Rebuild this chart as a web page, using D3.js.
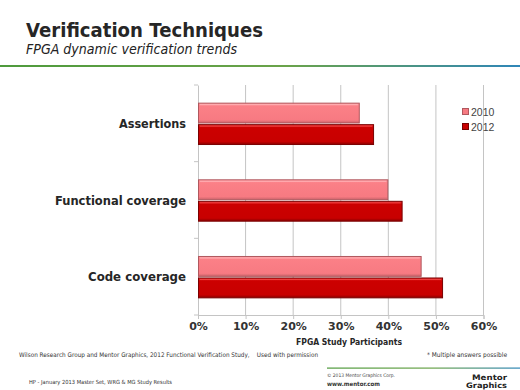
<!DOCTYPE html>
<html><head><meta charset="utf-8">
<script src="https://cdn.jsdelivr.net/npm/d3@7"></script>
<style>
html,body{margin:0;padding:0;background:#fff;}
svg{display:block;font-family:"DejaVu Sans",Verdana,sans-serif;}
</style></head>
<body>
<script>
const categories = ["Assertions", "Functional coverage", "Code coverage"];
const seriesNames = ["2010", "2012"];
const values2010 = [34, 40, 47];
const values2012 = [37, 43, 51.5];
const xTicks = [0, 10, 20, 30, 40, 50, 60];

const W = 520, H = 390;
const svg = d3.select("body").append("svg").attr("width", W).attr("height", H);
const defs = svg.append("defs");

const lg = defs.append("linearGradient").attr("id","rule").attr("x1","0").attr("x2","1");
lg.append("stop").attr("offset","0").attr("stop-color","#4e9a3c");
lg.append("stop").attr("offset","0.55").attr("stop-color","#6aa34a");
lg.append("stop").attr("offset","1").attr("stop-color","#2f86b8");

const g10 = defs.append("linearGradient").attr("id","g10").attr("x1","0").attr("x2","0").attr("y1","0").attr("y2","1");
g10.append("stop").attr("offset","0").attr("stop-color","#ff9aa0");
g10.append("stop").attr("offset","0.15").attr("stop-color","#fb8087");
g10.append("stop").attr("offset","0.85").attr("stop-color","#f77a82");
g10.append("stop").attr("offset","1").attr("stop-color","#c9636a");
const g12 = defs.append("linearGradient").attr("id","g12").attr("x1","0").attr("x2","0").attr("y1","0").attr("y2","1");
g12.append("stop").attr("offset","0").attr("stop-color","#e83030");
g12.append("stop").attr("offset","0.15").attr("stop-color","#cc0000");
g12.append("stop").attr("offset","0.85").attr("stop-color","#c80000");
g12.append("stop").attr("offset","1").attr("stop-color","#8a0000");

function fitText(sel, width){
  const n = sel.node();
  let w = n.getComputedTextLength();
  if (w > width * 1.1) {
    const fs = parseFloat(sel.attr("font-size"));
    sel.attr("font-size", fs * width * 1.1 / w);
    w = n.getComputedTextLength();
  }
  if (w > 0) sel.attr("textLength", width).attr("lengthAdjust","spacingAndGlyphs");
  return sel;
}

// Title
fitText(svg.append("text").attr("x",26).attr("y",37).attr("font-size",20).attr("font-weight","bold")
  .attr("fill","#262626").text("Verification Techniques"), 237);
fitText(svg.append("text").attr("x",26).attr("y",54).attr("font-size",14.5).attr("font-style","italic")
  .attr("fill","#222").text("FPGA dynamic verification trends"), 211);
svg.append("rect").attr("x",0).attr("y",65).attr("width",W).attr("height",2).attr("fill","url(#rule)");

// Chart
const m = {left:198, right:483.5, top:85, bottom:315};
const x = d3.scaleLinear().domain([0,60]).range([m.left, m.right]);
const y = d3.scaleBand().domain(categories).range([m.top, m.bottom]).paddingInner(0).paddingOuter(0);
const inner = d3.scaleBand().domain(seriesNames).range([17, y.bandwidth()-16]).padding(0.03);

svg.append("g").selectAll("line").data(xTicks.slice(1)).join("line")
  .attr("x1",d=>x(d)).attr("x2",d=>x(d)).attr("y1",m.top).attr("y2",m.bottom)
  .attr("stroke","#c4c4c4").attr("stroke-width",1);

const xAxis = d3.axisBottom(x).tickValues(xTicks).tickSize(4).tickPadding(3).tickFormat(d=>d+"%");
const xg = svg.append("g").attr("transform",`translate(0,${m.bottom})`).call(xAxis);
xg.select(".domain").attr("stroke","#c4c4c4");
xg.selectAll(".tick line").attr("stroke","#c4c4c4");
xg.selectAll(".tick text").attr("font-size",11).attr("font-weight","bold").attr("fill","#333")
  .attr("font-family","DejaVu Sans, Verdana, sans-serif");

const yAxis = d3.axisLeft(y).tickSize(0).tickFormat("");
const yg = svg.append("g").attr("transform",`translate(${m.left},0)`).call(yAxis);
yg.select(".domain").attr("stroke","#c4c4c4");
svg.append("g").selectAll("line").data(d3.range(categories.length+1)).join("line")
  .attr("x1",m.left-4).attr("x2",m.left).attr("y1",i=>m.top+i*y.step()).attr("y2",i=>m.top+i*y.step())
  .attr("stroke","#c4c4c4");

svg.append("g").selectAll("text").data(categories).join("text")
  .attr("x",186).attr("y",d=>y(d)+y.bandwidth()/2+4.5).attr("text-anchor","end")
  .attr("font-size",12.5).attr("font-weight","bold").attr("fill","#262626").text(d=>d)
  .each(function(d){ const w={"Assertions":67,"Functional coverage":131,"Code coverage":98}[d]; fitText(d3.select(this), w); });

const rows = categories.map((c,i)=>({c, vals:[{s:"2010",v:values2010[i]},{s:"2012",v:values2012[i]}]}));
const bg = svg.append("g").selectAll("g").data(rows).join("g").attr("transform",d=>`translate(0,${y(d.c)})`);
bg.selectAll("rect").data(d=>d.vals).join("rect")
  .attr("x",x(0)+0.5).attr("y",d=>inner(d.s)+0.5)
  .attr("width",d=>x(d.v)-x(0)-1).attr("height",inner.bandwidth()-1)
  .attr("fill",d=>d.s==="2010"?"url(#g10)":"url(#g12)")
  .attr("stroke",d=>d.s==="2010"?"#b0585e":"#7a0000").attr("stroke-width",1);
bg.selectAll("line.hl").data(d=>d.vals).join("line").attr("class","hl")
  .attr("x1",x(0)+2).attr("x2",d=>x(d.v)-2).attr("y1",d=>inner(d.s)+2).attr("y2",d=>inner(d.s)+2)
  .attr("stroke",d=>d.s==="2010"?"#ffb0b4":"#ee4040").attr("stroke-width",1);

svg.append("text").attr("x",349).attr("y",345).attr("text-anchor","middle").attr("font-size",11)
  .attr("font-weight","bold").attr("fill","#262626").text("FPGA Study Participants")
  .call(s=>fitText(s,106));

const leg = svg.append("g").selectAll("g").data(seriesNames).join("g")
  .attr("transform",(d,i)=>`translate(462,${108+i*15})`);
leg.append("rect").attr("width",6).attr("height",6).attr("x",0.5).attr("y",0.5)
  .attr("fill",d=>d==="2010"?"#f77a82":"#c80000").attr("stroke",d=>d==="2010"?"#b0585e":"#7a0000");
leg.append("text").attr("x",9).attr("y",7.5).attr("font-size",10.5).attr("fill","#444")
  .attr("font-family","Liberation Sans, Arial, sans-serif").text(d=>d);

fitText(svg.append("text").attr("x",19).attr("y",357).attr("font-size",7).attr("fill","#333")
  .style("white-space","pre")
  .text("Wilson Research Group and Mentor Graphics, 2012 Functional Verification Study,    Used with permission"), 299);
fitText(svg.append("text").attr("x",427).attr("y",357).attr("font-size",7).attr("fill","#333")
  .text("* Multiple answers possible"), 80);
svg.append("rect").attr("x",327).attr("y",367.5).attr("width",193).attr("height",1.2).attr("fill","url(#rule)");
fitText(svg.append("text").attr("x",327).attr("y",377).attr("font-size",6).attr("fill","#444")
  .text("© 2013 Mentor Graphics Corp."), 68);
fitText(svg.append("text").attr("x",327).attr("y",385.5).attr("font-size",6.5).attr("font-weight","bold").attr("fill","#333")
  .text("www.mentor.com"), 53);
fitText(svg.append("text").attr("x",29).attr("y",384).attr("font-size",6.5).attr("fill","#333")
  .text("HP - January 2013 Master Set, WRG & MG Study Results"), 143);
fitText(svg.append("text").attr("x",472).attr("y",379.5).attr("font-size",7.5).attr("font-weight","bold").attr("fill","#222")
  .text("Mentor"), 35);
fitText(svg.append("text").attr("x",466).attr("y",387.5).attr("font-size",7.5).attr("font-weight","bold").attr("fill","#222")
  .text("Graphics"), 41);
</script>
</body></html>
